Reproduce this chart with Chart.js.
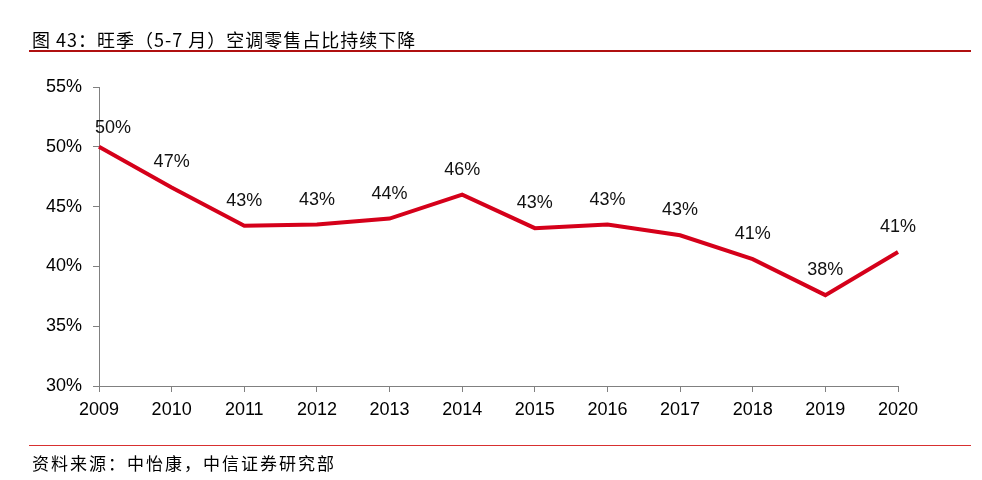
<!DOCTYPE html>
<html>
<head>
<meta charset="utf-8">
<script src="https://cdn.jsdelivr.net/npm/chart.js@4/dist/chart.umd.min.js"></script>
<style>
  html, body { margin: 0; padding: 0; background: #fff; }
  #wrap { position: relative; width: 982px; height: 480px; overflow: hidden; }
  #chart { position: absolute; left: 0; top: 0; }
  .title { position: absolute; left: 32px; top: 28px; font: 18px "Noto Sans CJK SC", "Liberation Sans", sans-serif; letter-spacing: 1px; color: #000; line-height: 22px; white-space: nowrap; }
  .rule { position: absolute; left: 29px; width: 942px; }
  .source { position: absolute; left: 32px; top: 453px; font: 17px "Noto Sans CJK SC", "Liberation Sans", sans-serif; letter-spacing: 2px; color: #000; line-height: 20px; white-space: nowrap; }
</style>
</head>
<body>
<div id="wrap">
  <canvas id="chart" width="982" height="480"></canvas>
  <div class="title">图 43：旺季（5-7 月）空调零售占比持续下降</div>
  <div class="rule" style="top:50px;height:2px;background:#b01010;"></div>
  <div class="rule" style="top:445px;height:1px;background:#d83030;"></div>
  <div class="source">资料来源：中怡康，中信证券研究部</div>
</div>
<script>
const years = ['2009', '2010', '2011', '2012', '2013', '2014', '2015', '2016', '2017', '2018', '2019', '2020'];
const shares = [50.0, 46.6, 43.4, 43.5, 44.0, 46.0, 43.2, 43.5, 42.6, 40.6, 37.6, 41.2];
const pointLabels = ['50%', '47%', '43%', '43%', '44%', '46%', '43%', '43%', '43%', '41%', '38%', '41%'];
const yTicks = [30, 35, 40, 45, 50, 55];

// draw the value labels above each point
const pointLabelPlugin = {
    id: 'pointLabels',
    afterDatasetsDraw(chart) {
        const ctx = chart.ctx;
        const meta = chart.getDatasetMeta(0);
        ctx.save();
        ctx.font = '18px "Liberation Sans", Arial, sans-serif';
        ctx.fillStyle = '#111';
        ctx.textAlign = 'center';
        ctx.textBaseline = 'middle';
        meta.data.forEach((pt, i) => {
            let x = pt.x, dy = 25;
            if (i === 0) { x += 14; dy = 19; } // first label sits right of the axis, a bit lower
            ctx.fillText(pointLabels[i], x, pt.y - dy);
        });
        ctx.restore();
    }
};

new Chart(document.getElementById('chart'), {
    type: 'line',
    data: {
        labels: years,
        datasets: [{
            data: shares,
            borderColor: '#d5001a',
            borderWidth: 4,
            pointRadius: 0,
            tension: 0,
            fill: false
        }]
    },
    options: {
        responsive: false,
        animation: false,
        layout: { padding: { left: 0, right: 84, top: 87, bottom: 0 } },
        plugins: { legend: { display: false }, tooltip: { enabled: false } },
        scales: {
            x: {
                offset: false,
                grid: { drawOnChartArea: false, tickLength: 6, color: '#808080' },
                border: { color: '#808080', width: 1 },
                ticks: { color: '#000', font: { size: 18, family: '"Liberation Sans", Arial, sans-serif' }, padding: 7, maxRotation: 0, autoSkip: false },
                afterFit(scale) { scale.height = 480 - 386; }
            },
            y: {
                min: 30,
                max: 55,
                afterBuildTicks(scale) { scale.ticks = yTicks.map(v => ({ value: v })); },
                grid: { drawOnChartArea: false, tickLength: 6, color: '#808080' },
                border: { color: '#808080', width: 1 },
                ticks: { color: '#000', font: { size: 18, family: '"Liberation Sans", Arial, sans-serif' }, padding: 11, callback: v => v + '%' },
                afterFit(scale) { scale.width = 99; }
            }
        }
    },
    plugins: [pointLabelPlugin]
});
</script>
</body>
</html>
